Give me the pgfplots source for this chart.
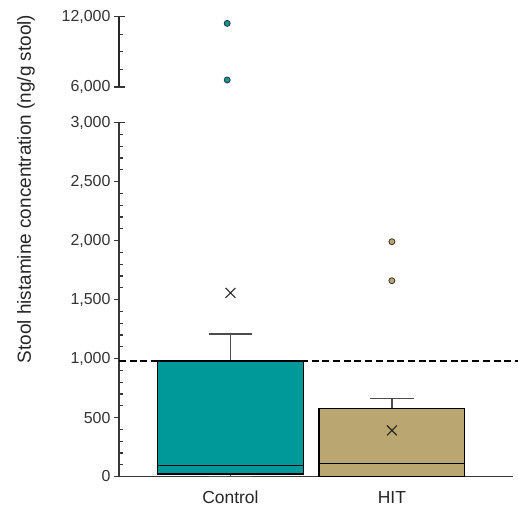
\documentclass[border=0pt]{standalone}
\usepackage{pgfplots}
\pgfplotsset{compat=1.18}
\usepackage{fontspec}
\setmainfont{Liberation Sans}

\definecolor{ctrl}{RGB}{0,153,153}
\definecolor{hit}{RGB}{185,166,112}
\definecolor{axgray}{RGB}{55,55,55}

\pgfplotsset{
  brokenaxis/.style={
    scale only axis, width=394bp,
    xmin=0.31, xmax=2.75,
    tick style={axgray, line width=1.2bp},
    major tick length=5bp, minor tick length=3.5bp,
    tick align=outside,
    minor y tick style={xshift=3.5bp},
    scaled y ticks=false,
    /pgf/number format/assume math mode=true,
    /pgf/number format/1000 sep={,},
    yticklabel style={font=\fontsize{16}{19}\selectfont, text=black!80},
    clip=false,
  },
  whisk/.style={draw=black!70, line width=1.4bp, forget plot},
  axcap/.style={axgray, line width=1.4bp, forget plot},
}

\begin{document}
\begin{tikzpicture}
\useasboundingbox (0,0) rectangle (518bp,508bp);

% upper part of the broken axis
\begin{axis}[brokenaxis,
  at={(119bp,421bp)}, anchor=south west, height=70.3bp,
  ymin=6000, ymax=12000,
  ytick={6000,12000}, minor ytick={7500,9000,10500},
  axis x line=none, axis y line*=left,
  y axis line style={black!85, line width=2.2bp, -},
]
% caps at both ends of the axis
\addplot[axcap] coordinates {(0.31,12000) (0.35,12000)};
\addplot[axcap] coordinates {(0.31,6000) (0.35,6000)};
\addplot[only marks, mark=*, mark size=3bp,
  mark options={fill=ctrl, draw=black!80, line width=0.8bp}]
  coordinates {(0.98,11430) (0.98,6600)};
\end{axis}

% lower part
\begin{axis}[brokenaxis,
  at={(119bp,31.5bp)}, anchor=south west, height=353.8bp,
  ymin=0, ymax=3000,
  ytick={0,500,...,3000}, minor y tick num=4,
  axis x line*=bottom, axis y line*=left,
  x axis line style={axgray, line width=1.6bp, -},
  y axis line style={axgray, line width=1.8bp, -},
  xtick={1,2}, xticklabels={Control,HIT},
  x tick style={draw=none},
  xticklabel style={font=\fontsize{17.5}{20}\selectfont, text=black!85, yshift=-6bp},
  ylabel={Stool histamine concentration (ng/g stool)},
  ylabel style={at={(rel axis cs:-0.236,0.8126)}, anchor=center,
    font=\fontsize{19}{22}\selectfont, text=black!85},
]
\addplot[axcap] coordinates {(0.31,3000) (0.345,3000)};
% whiskers (Control: 0 / 1207, HIT: 0 / 663)
\addplot[whisk] coordinates {(1,980) (1,1207)};
\addplot[whisk] coordinates {(0.865,1207) (1.135,1207)};
\addplot[whisk] coordinates {(1,0) (1,23)};
\addplot[whisk] coordinates {(0.865,0) (1.135,0)};
\addplot[whisk] coordinates {(2,578) (2,663)};
\addplot[whisk] coordinates {(1.865,663) (2.135,663)};
\addplot[whisk] coordinates {(1.865,0) (2.135,0)};
% boxes: quartiles
\addplot[fill=ctrl, draw=black, line width=1.5bp]
  coordinates {(0.5475,23) (1.4525,23) (1.4525,980) (0.5475,980)} -- cycle;
\addplot[fill=hit, draw=black, line width=1.5bp]
  coordinates {(1.55,0) (2.45,0) (2.45,578) (1.55,578)} -- cycle;
% medians
\addplot[black, line width=1.4bp] coordinates {(0.5475,91) (1.4525,91)};
\addplot[black, line width=1.4bp] coordinates {(1.55,108) (2.45,108)};
% means
\addplot[only marks, mark=x, mark size=7bp,
  mark options={draw=black!85, line width=1.1bp}]
  coordinates {(1,1557) (2,391)};
% outliers
\addplot[only marks, mark=*, mark size=3bp,
  mark options={fill=hit, draw=black!80, line width=0.8bp}]
  coordinates {(2,1991) (2,1660)};
% reference line
\addplot[black, line width=2.3bp, dash pattern=on 7bp off 3.7bp]
  coordinates {(0.31,982) (2.781,982)};
\end{axis}
\end{tikzpicture}
\end{document}
